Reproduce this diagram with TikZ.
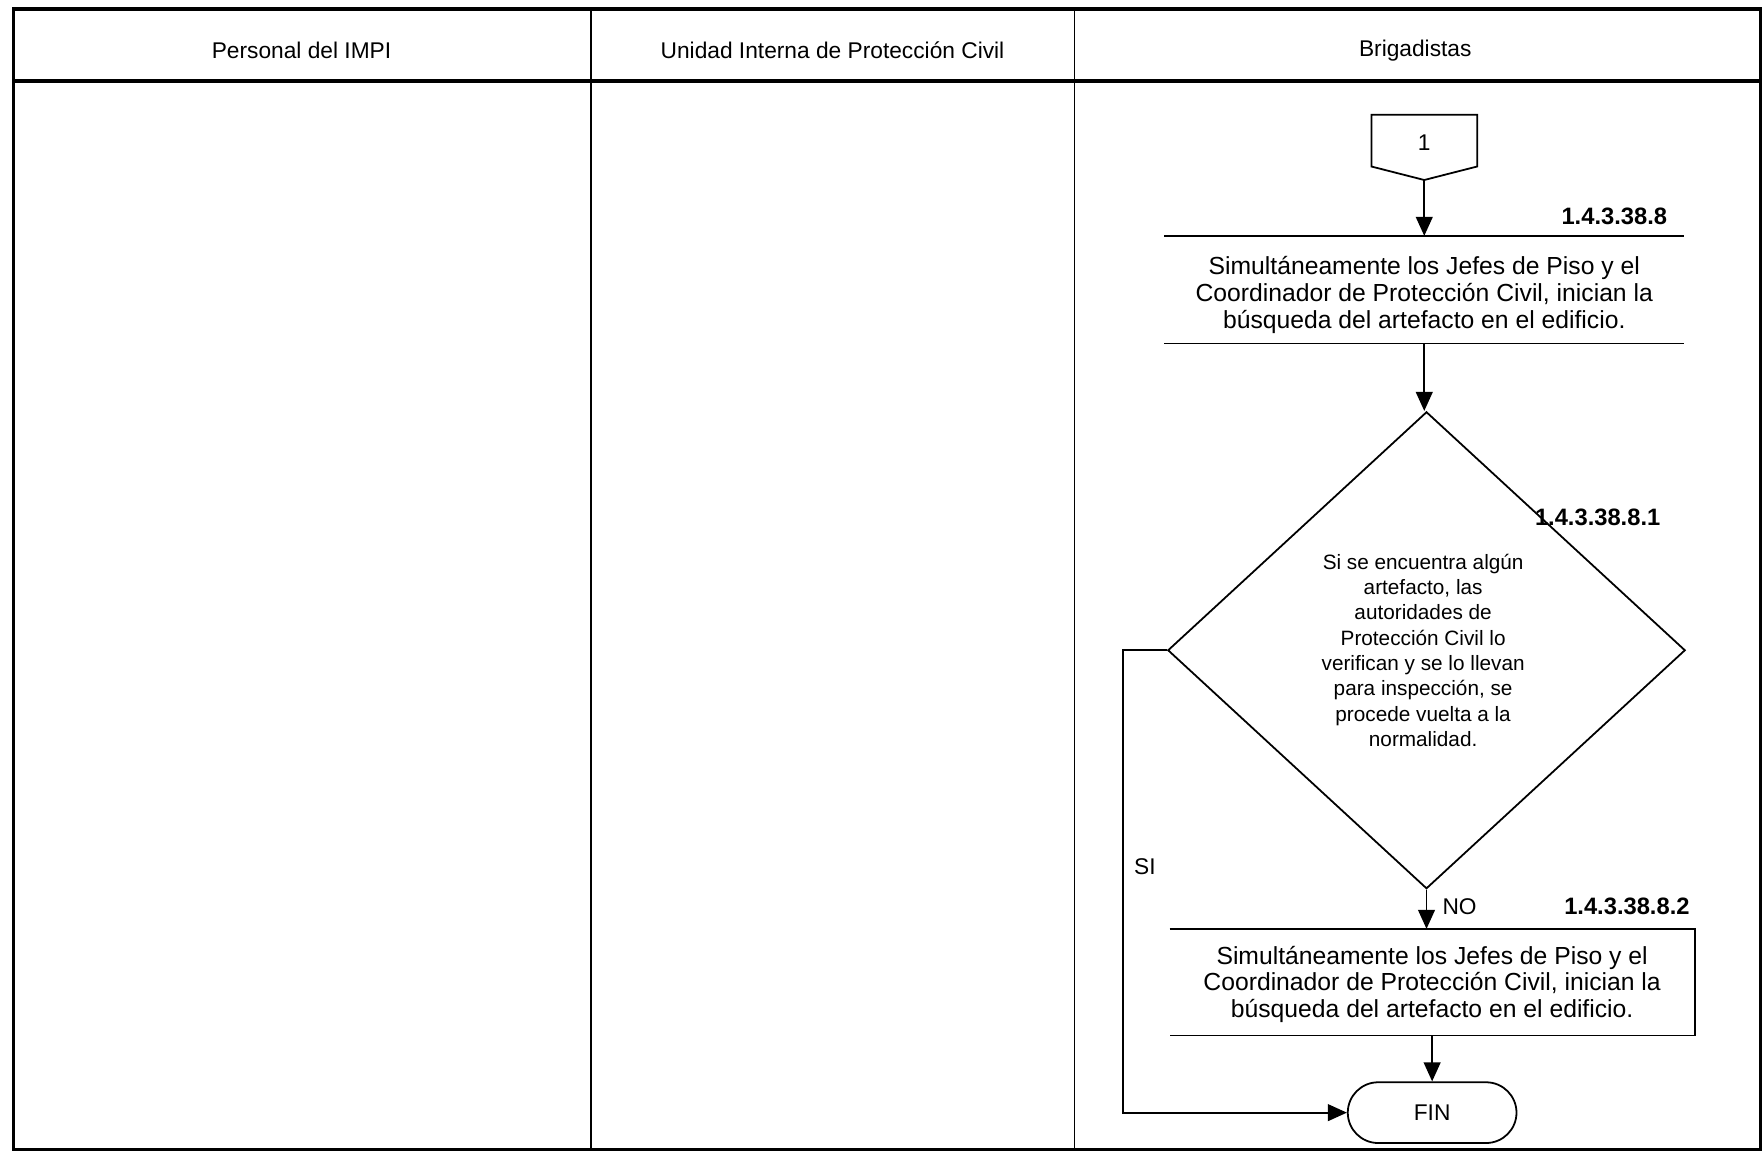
\documentclass[tikz,border=0pt]{standalone}
\usepackage{fontspec}
\setmainfont{Liberation Sans}
\usetikzlibrary{shapes.geometric,arrows.meta}
\begin{document}
\begin{tikzpicture}[x=0.02cm,y=-0.02cm,
  frameline/.style={line width=1.6pt},
  laneline/.style={line width=0.9pt},
  conn/.style={line width=0.9pt,-{Triangle[length=0.34cm,width=0.3cm]}},
  shapeline/.style={line width=0.9pt},
  head/.style={font=\fontsize{11.5}{13}\selectfont},
  proc/.style={minimum width=9.24cm,minimum height=1.9cm,inner sep=0pt},
  proctext/.style={align=center,inner sep=0pt,font=\fontsize{12.5}{13.6}\selectfont},
  dec/.style={shape=diamond,draw,line width=0.9pt,minimum width=9.2cm,minimum height=8.48cm,inner sep=0pt,aspect=1.08},
  dectext/.style={align=center,inner sep=0pt,font=\fontsize{10.5}{12.8}\selectfont},
  term/.style={draw,line width=0.9pt,rounded corners=0.54cm,minimum width=3cm,minimum height=1.08cm,font=\fontsize{11.5}{13}\selectfont},
  code/.style={font=\fontsize{12}{14}\selectfont\bfseries},
  lbl/.style={font=\fontsize{11.5}{13}\selectfont}]
\useasboundingbox (0,0) rectangle (1568,1025);
\fill[white] (0,0) rectangle (1568,1025);
% frame and lanes
\draw[frameline] (12,8) rectangle (1565,1022);
\draw[frameline] (12,72) -- (1565,72);
\draw[laneline] (525,8) -- (525,1022);
\draw[laneline] (955,8) -- (955,1022);
\node[head] (h1) at (268,45) {Personal del IMPI};
\node[head] (h2) at (740,45) {Unidad Interna de Protección Civil};
\node[head] (h3) at (1258,45) {Brigadistas};
% off-page connector
\draw[shapeline] (1219,102) -- (1313,102) -- (1313,148) -- (1266,160) -- (1219,148) -- cycle;
\node[lbl] (c1) at (1266,127) {1};
\coordinate (c1b) at (1266,160);
% first process
\node[proc] (p1) at (1266,257.5) {};
\node[proctext] (t1) at (1266,262) {Simultáneamente los Jefes de Piso y el\\Coordinador de Protección Civil, inician la\\búsqueda del artefacto en el edificio.};
\draw[shapeline] (p1.north west) -- (p1.north east);
\draw[shapeline] (p1.south west) -- (p1.south east);
\node[code,anchor=east] (k1) at (1488,192) {1.4.3.38.8};
% decision
\node[dec] (d1) at (1268,578) {};
\node[dectext] (t2) at (1265,578) {Si se encuentra algún\\artefacto, las\\autoridades de\\Protección Civil lo\\verifican y se lo llevan\\para inspección, se\\procede vuelta a la\\normalidad.};
\node[code,anchor=east] (k2) at (1482,460) {1.4.3.38.8.1};
% second process
\node[proc,minimum width=9.32cm,minimum height=1.88cm] (p2) at (1273,873) {};
\node[proctext] (t3) at (1273,875) {Simultáneamente los Jefes de Piso y el\\Coordinador de Protección Civil, inician la\\búsqueda del artefacto en el edificio.};
\draw[shapeline] (p2.north west) -- (p2.north east) -- (p2.south east) -- (p2.south west);
\node[code,anchor=east] (k3) at (1508,806) {1.4.3.38.8.2};
% terminal
\node[term] (fin) at (1273,989) {FIN};
% connectors
\draw[conn] (c1b) -- (p1.north);
\draw[conn] (p1.south) -- (p1.south |- d1.north);
\draw[conn] (d1.south) -- (d1.south |- p2.north);
\node[lbl,anchor=west] (no) at (1276,806) {NO};
\draw[conn] (p2.south) -- (fin.north);
\coordinate (s1) at (998,578);
\draw[conn] (d1.west) -- (s1) |- (fin.west);
\node[lbl,anchor=west] (si) at (1002,770) {SI};
\end{tikzpicture}
\end{document}
